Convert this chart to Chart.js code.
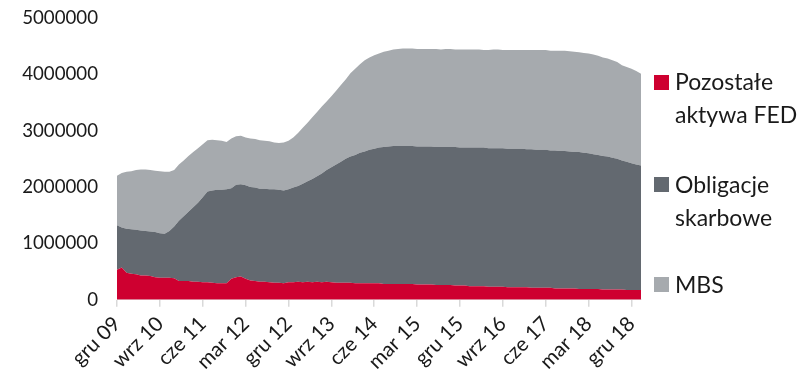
<!DOCTYPE html>
<html lang="pl">
<head>
<meta charset="utf-8">
<title>Aktywa FED</title>
<script src="https://cdn.jsdelivr.net/npm/chart.js@4.4.1/dist/chart.umd.min.js"></script>
<style>
  html, body { margin: 0; padding: 0; background: #ffffff; }
  #wrap { position: relative; width: 811px; height: 379px; }
  #chart { position: absolute; left: 0; top: 0; }
  .lg { position: absolute; left: 654px; font-family: Lato, "Open Sans", sans-serif; font-size: 23px; line-height: 33px; color: #1a1a1a; }
  .lg .sw { position: absolute; left: 0; width: 15px; height: 15px; }
  .lg .tx { position: absolute; left: 21px; top: 0; white-space: nowrap; }
</style>
</head>
<body>
<div id="wrap">
  <canvas id="chart" width="811" height="379"></canvas>
  <div class="lg" style="top:65px"><div class="sw" style="top:10px;background:#CE0030"></div><div class="tx">Pozostałe<br>aktywa FED</div></div>
  <div class="lg" style="top:168px"><div class="sw" style="top:9px;background:#636970"></div><div class="tx">Obligacje<br>skarbowe</div></div>
  <div class="lg" style="top:268px"><div class="sw" style="top:9px;background:#A6AAAE"></div><div class="tx">MBS</div></div>
</div>
<script>
// Monthly observations, Dec 2009 – Feb 2019 (values in thousands, scaled by UNIT)
const UNIT = 1000;
const MONTHS = ['sty', 'lut', 'mar', 'kwi', 'maj', 'cze', 'lip', 'sie', 'wrz', 'paź', 'lis', 'gru'];
const START_YEAR = 2009, START_MONTH = 11, N_POINTS = 111;
const LABEL_EVERY = 9;

const pozostaleAktywa = [
  530, 570, 480, 460, 450, 430, 430, 420, 400, 390,
  390, 390, 380, 330, 330, 330, 320, 320, 310, 310,
  300, 290, 290, 290, 370, 400, 410, 370, 340, 330,
  320, 320, 310, 300, 300, 290, 310, 310, 320, 310,
  320, 310, 320, 310, 320, 310, 300, 300, 300, 300,
  290, 290, 290, 290, 290, 290, 280, 280, 280, 280,
  280, 280, 280, 270, 270, 270, 270, 260, 260, 260,
  260, 250, 250, 250, 240, 240, 240, 240, 230, 230,
  230, 230, 220, 220, 220, 220, 220, 210, 210, 210,
  210, 210, 200, 200, 200, 200, 200, 190, 190, 190,
  190, 190, 180, 180, 180, 180, 180, 170, 170, 170,
  170
];

const obligacjeSkarbowe = [
  790, 710, 780, 790, 790, 800, 790, 790, 800, 790,
  780, 830, 920, 1070, 1150, 1230, 1320, 1400, 1510, 1610,
  1640, 1660, 1660, 1670, 1610, 1640, 1640, 1660, 1660, 1660,
  1650, 1650, 1650, 1660, 1650, 1650, 1650, 1680, 1700, 1750,
  1780, 1830, 1870, 1930, 1980, 2040, 2100, 2150, 2200, 2240,
  2280, 2320, 2340, 2370, 2390, 2410, 2430, 2440, 2450, 2450,
  2450, 2450, 2450, 2450, 2450, 2450, 2450, 2450, 2450, 2450,
  2450, 2460, 2450, 2450, 2460, 2460, 2460, 2460, 2460, 2460,
  2460, 2460, 2460, 2460, 2460, 2460, 2450, 2460, 2450, 2450,
  2450, 2440, 2450, 2440, 2440, 2430, 2420, 2430, 2420, 2410,
  2390, 2380, 2370, 2360, 2340, 2320, 2290, 2280, 2250, 2230,
  2210
];

const mbs = [
  880, 970, 1010, 1030, 1060, 1080, 1090, 1090, 1090, 1100,
  1100, 1050, 1000, 1000, 990, 990, 980, 970, 940, 910,
  900, 880, 870, 840, 880, 860, 860, 850, 860, 860,
  860, 850, 850, 830, 830, 850, 860, 890, 940, 990,
  1040, 1100, 1140, 1190, 1220, 1260, 1310, 1360, 1410, 1480,
  1530, 1570, 1620, 1640, 1660, 1670, 1690, 1700, 1710, 1720,
  1730, 1730, 1730, 1730, 1730, 1730, 1730, 1740, 1730, 1740,
  1740, 1730, 1740, 1740, 1740, 1740, 1740, 1730, 1740, 1750,
  1750, 1740, 1750, 1750, 1750, 1750, 1760, 1760, 1770, 1770,
  1770, 1770, 1770, 1780, 1780, 1780, 1780, 1770, 1770, 1770,
  1770, 1760, 1750, 1740, 1730, 1720, 1690, 1680, 1680, 1660,
  1630
];

const Y_TICKS = [0, 1000000, 2000000, 3000000, 4000000, 5000000];

// Category labels such as "gru 09", "wrz 10", ...
const categories = [];
for (let i = 0; i < N_POINTS; i++) {
  const m = (START_MONTH + i) % 12;
  const y = START_YEAR + Math.floor((START_MONTH + i) / 12);
  categories.push(MONTHS[m] + ' ' + String(y % 100).padStart(2, '0'));
}

const FAMILY = 'Lato, "Open Sans", sans-serif';
const TEXT = '#1a1a1a';

function series(label, values, color, fill) {
  return {
    label,
    data: values.map(v => v * UNIT),
    backgroundColor: color,
    borderColor: color,
    borderWidth: 0,
    pointRadius: 0,
    pointHoverRadius: 0,
    tension: 0,
    fill
  };
}

new Chart(document.getElementById('chart'), {
  type: 'line',
  data: {
    labels: categories,
    datasets: [
      series('Pozostałe aktywa FED', pozostaleAktywa, '#CE0030', 'origin'),
      series('Obligacje skarbowe', obligacjeSkarbowe, '#636970', '-1'),
      series('MBS', mbs, '#A6AAAE', '-1')
    ]
  },
  options: {
    responsive: false,
    animation: false,
    devicePixelRatio: 1,
    layout: { padding: { left: 0, right: 170, top: 18, bottom: 0 } },
    plugins: {
      legend: { display: false },
      tooltip: { enabled: false }
    },
    scales: {
      x: {
        type: 'category',
        offset: false,
        grid: { drawOnChartArea: false, drawTicks: true, tickLength: 7, color: '#d9d9d9', lineWidth: 1.5 },
        border: { display: true, color: '#e3e3e3', width: 1 },
        ticks: {
          autoSkip: false,
          minRotation: 45,
          maxRotation: 45,
          padding: 5,
          color: TEXT,
          font: { family: FAMILY, size: 20.5 },
          callback(value, index) {
            return index % LABEL_EVERY === 0 ? this.getLabelForValue(value) : null;
          }
        }
      },
      y: {
        stacked: true,
        min: Y_TICKS[0],
        max: Y_TICKS[Y_TICKS.length - 1],
        afterBuildTicks(scale) { scale.ticks = Y_TICKS.map(v => ({ value: v })); },
        afterFit(scale) {
          scale.width = 117;
          // keep only half a label of headroom above the top tick
          scale.paddingTop = 11;
          scale.paddingBottom = 0;
        },
        grid: { display: false, drawTicks: false },
        border: { display: false },
        ticks: {
          padding: 19,
          color: TEXT,
          font: { family: FAMILY, size: 18.7 },
          callback: v => String(v)
        }
      }
    }
  }
});
</script>
</body>
</html>
